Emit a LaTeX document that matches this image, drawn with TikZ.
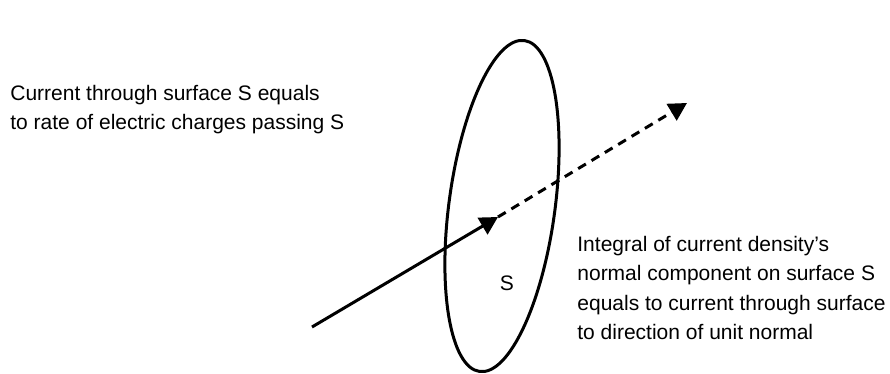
\documentclass[tikz,border=0pt]{standalone}
\usepackage{fontspec}
\setmainfont{Liberation Sans}
\usetikzlibrary{arrows.meta}
\colorlet{figLine}{black}
\tikzset{
  txt/.style={inner sep=0pt, anchor=north west, align=left, font=\fontsize{10.5}{14.6}\selectfont},
  flow/.style={line width=1.5pt, figLine, -{Triangle[length=9pt, width=9.5pt]}}
}
\begin{document}
\begin{tikzpicture}[x=0.5pt, y=-0.5pt]
    \useasboundingbox (0,0) rectangle (890,374);
    %--- Flate S ---
    \draw[line width=1.5pt, figLine, rotate around={-7.7:(502,206)}] (502,206) ellipse [x radius=53, y radius=167];
    \node[txt, anchor=center] (lblS) at (507,283){S};
    %--- Strømvektor gjennom flaten ---
    \coordinate (tail) at (312,327);
    \coordinate (mid)  at (498,217);
    \coordinate (head) at (687,103);
    \draw[flow] (tail)--(mid);
    \draw[flow, dash pattern=on 4.5pt off 3.3pt] (mid)--(head);
    %--- Tekst ---
    \node[txt] (leftTxt) at (10,85){Current through surface S equals\\to rate of electric charges passing S};
    \node[txt] (rightTxt) at (577,236){Integral of current density’s\\normal component on surface S\\equals to current through surface\\to direction of unit normal};
  \end{tikzpicture}
\end{document}
